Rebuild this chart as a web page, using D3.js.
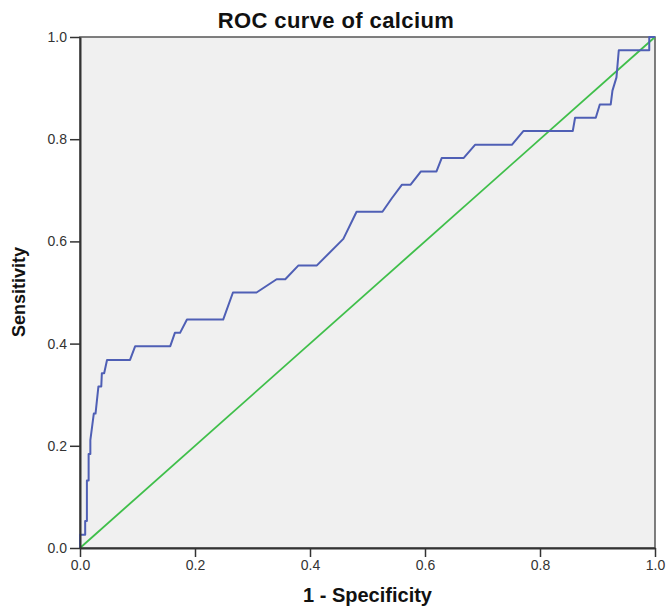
<!DOCTYPE html>
<html>
<head>
<meta charset="utf-8">
<script src="https://cdn.jsdelivr.net/npm/d3@7"></script>
<style>
  body { margin: 0; background: #fff; }
  text { font-family: "Liberation Sans", Arial, sans-serif; }
</style>
</head>
<body>
<div id="chart"></div>
<script>
// chart data
const FPR = [0, 0, 0.009, 0.009, 0.012, 0.012, 0.015, 0.015, 0.018, 0.018, 0.024, 0.027, 0.032,
  0.037, 0.038, 0.042, 0.047, 0.087, 0.096, 0.157, 0.165, 0.174, 0.186, 0.249, 0.266, 0.307,
  0.342, 0.357, 0.380, 0.412, 0.458, 0.481, 0.526, 0.542, 0.560, 0.575, 0.593, 0.620, 0.629,
  0.667, 0.687, 0.751, 0.771, 0.857, 0.861, 0.897, 0.904, 0.923, 0.926, 0.933, 0.937, 0.990,
  0.990, 1.0];
const TPR = [0, 0.026, 0.026, 0.053, 0.053, 0.132, 0.132, 0.184, 0.184, 0.211, 0.263, 0.263, 0.316,
  0.316, 0.342, 0.342, 0.368, 0.368, 0.395, 0.395, 0.421, 0.421, 0.447, 0.447, 0.5, 0.5,
  0.526, 0.526, 0.553, 0.553, 0.605, 0.658, 0.658, 0.684, 0.711, 0.711, 0.737, 0.737, 0.763,
  0.763, 0.789, 0.789, 0.816, 0.816, 0.842, 0.842, 0.868, 0.868, 0.895, 0.921, 0.974, 0.974,
  1.0, 1.0];
const REF_X = [0, 1];
const REF_Y = [0, 1];
const TICKS = [0, 0.2, 0.4, 0.6, 0.8, 1.0];

const FRAME_WIDTH = 667;
const FRAME_HEIGHT = 607;
const MARGINS = {left: 80, right: 12, top: 37, bottom: 59};
const VIS_WIDTH = FRAME_WIDTH - MARGINS.left - MARGINS.right;
const VIS_HEIGHT = FRAME_HEIGHT - MARGINS.top - MARGINS.bottom;

const svg = d3.select('#chart')
  .append('svg')
  .attr('width', FRAME_WIDTH)
  .attr('height', FRAME_HEIGHT);

const g = svg.append('g')
  .attr('transform', `translate(${MARGINS.left},${MARGINS.top})`);

const x = d3.scaleLinear().domain([0, 1]).range([0, VIS_WIDTH]);
const y = d3.scaleLinear().domain([0, 1]).range([VIS_HEIGHT, 0]);

// plot background + frame
g.append('rect')
  .attr('width', VIS_WIDTH)
  .attr('height', VIS_HEIGHT)
  .attr('fill', '#f0f0f0')
  .attr('stroke', '#555')
  .attr('stroke-width', 1.5);

// diagonal reference
g.append('path')
  .datum(REF_X.map((v, i) => [v, REF_Y[i]]))
  .attr('fill', 'none')
  .attr('stroke', '#3fbf4a')
  .attr('stroke-width', 1.8)
  .attr('d', d3.line().x(d => x(d[0])).y(d => y(d[1])));

// ROC curve
g.append('path')
  .datum(FPR.map((v, i) => [v, TPR[i]]))
  .attr('fill', 'none')
  .attr('stroke', '#4f5fb5')
  .attr('stroke-width', 2)
  .attr('stroke-linejoin', 'round')
  .attr('d', d3.line().x(d => x(d[0])).y(d => y(d[1])));

// axes
const xAxis = g.append('g')
  .attr('transform', `translate(0,${VIS_HEIGHT})`)
  .call(d3.axisBottom(x).tickValues(TICKS).tickFormat(d3.format('.1f'))
    .tickSize(9).tickPadding(3).tickSizeOuter(0));
const yAxis = g.append('g')
  .call(d3.axisLeft(y).tickValues(TICKS).tickFormat(d3.format('.1f'))
    .tickSize(10).tickPadding(3).tickSizeOuter(0));

[xAxis, yAxis].forEach(a => {
  a.select('.domain').attr('stroke', '#333').attr('stroke-width', 2);
  a.selectAll('.tick line').attr('stroke', '#333').attr('stroke-width', 1.5);
  a.selectAll('.tick text')
    .attr('fill', '#333')
    .style('font-size', '14px')
    .style('font-family', '"Liberation Sans", Arial, sans-serif');
});

// titles
svg.append('text')
  .attr('x', 336)
  .attr('y', 28)
  .attr('text-anchor', 'middle')
  .style('font-size', '22px')
  .style('font-weight', 'bold')
  .style('letter-spacing', '0.4px')
  .attr('fill', '#111')
  .text('ROC curve of calcium');

svg.append('text')
  .attr('x', MARGINS.left + VIS_WIDTH / 2)
  .attr('y', 602)
  .attr('text-anchor', 'middle')
  .style('font-size', '20px')
  .style('font-weight', 'bold')
  .attr('fill', '#111')
  .text('1 - Specificity');

svg.append('text')
  .attr('transform', `translate(25,292) rotate(-90)`)
  .attr('text-anchor', 'middle')
  .style('font-size', '18px')
  .style('font-weight', 'bold')
  .attr('fill', '#111')
  .text('Sensitivity');
</script>
</body>
</html>
